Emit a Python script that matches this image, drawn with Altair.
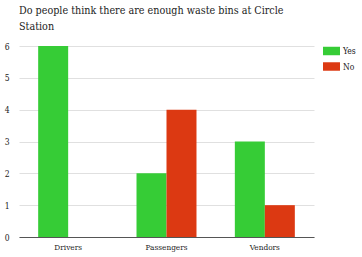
import altair as alt
import pandas as pd

groups = ["Drivers", "Passengers", "Vendors"]
answers = ["Yes", "No"]
yes_counts = [6, 2, 3]
no_counts = [0, 4, 1]
y_ticks = [0, 1, 2, 3, 4, 5, 6]
colors = ["#36cc36", "#dc3912"]

rows = []
for g, y, n in zip(groups, yes_counts, no_counts):
    rows.append({"group": g, "answer": "Yes", "count": y})
    rows.append({"group": g, "answer": "No", "count": n})
df = pd.DataFrame(rows)

font = "DejaVu Serif Condensed"

chart = alt.Chart(df).mark_bar().encode(
    x=alt.X("group:N", sort=groups,
            scale=alt.Scale(paddingInner=0.39, paddingOuter=0.195),
            axis=alt.Axis(title=None, labelAngle=0, ticks=False, domainColor="#555",
                          labelFont=font, labelFontSize=8.2, labelColor="#222",
                          labelPadding=6)),
    xOffset=alt.XOffset("answer:N", sort=answers, scale=alt.Scale(paddingInner=0, paddingOuter=0)),
    y=alt.Y("count:Q", scale=alt.Scale(domain=[0, 6], nice=False),
            axis=alt.Axis(title=None, values=y_ticks, ticks=False, domain=False,
                          gridColor="#e0e0e0", labelFont=font, labelFontSize=8.5,
                          labelColor="#222", labelPadding=10, format="d")),
    color=alt.Color("answer:N", sort=answers,
                    scale=alt.Scale(domain=answers, range=colors),
                    legend=alt.Legend(title=None, orient="none", legendX=308, legendY=0.5,
                                      symbolType="M-2,-1H2V1H-2Z", symbolSize=72,
                                      symbolStrokeWidth=0, symbolOpacity=1,
                                      labelFont=font, labelFontSize=8.5, labelColor="#222",
                                      rowPadding=6.5, labelOffset=7)),
).properties(
    width=295,
    height=191,
    title=alt.TitleParams(
        text=["Do people think there are enough waste bins at Circle", "Station"],
        font=font, fontSize=10.7, fontWeight="normal", color="#222",
        anchor="start", frame="group", offset=9, lineHeight=16, dx=0,
    ),
    autosize=alt.AutoSizeParams(type="none"),
    padding={"left": 19, "top": 46, "right": 48, "bottom": 20},
).configure_view(stroke=None)

chart.save("out.html", embed_options={"renderer": "svg", "actions": False})
